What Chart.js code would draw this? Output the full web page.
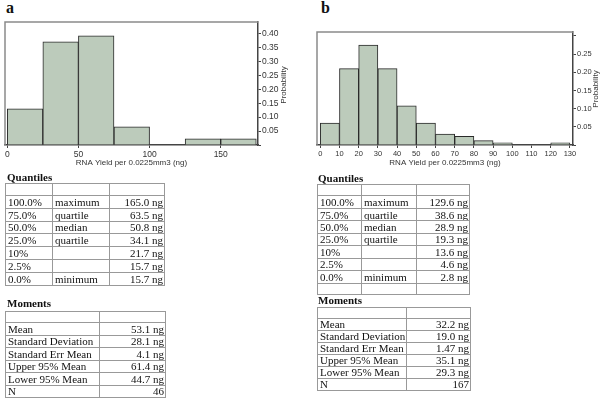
<!DOCTYPE html>
<html><head><meta charset="utf-8">
<script src="https://cdn.jsdelivr.net/npm/chart.js@4/dist/chart.umd.min.js"></script>
<style>
body{margin:0;background:#fff;width:600px;height:400px;position:relative;overflow:hidden;font-family:'Liberation Serif',serif}
.cw{position:absolute;top:0;width:300px;height:175px}
.lbl{position:absolute;font:bold 16px/16px 'Liberation Serif',serif;color:#111}
.ytitle{position:absolute;width:50px;height:10px;font:8px/10px 'Liberation Sans',Arial,sans-serif;color:#333;text-align:center;transform:rotate(-90deg);white-space:nowrap}
.hd{position:absolute;margin:0;font:bold 11px/13px 'Liberation Serif',serif;color:#111}
table{position:absolute;border-collapse:collapse;table-layout:fixed;font:11px 'Liberation Serif',serif;color:#111}
td{border:1px solid #999;padding:0 1px 0 2px;height:9px;line-height:10px;white-space:nowrap;overflow:hidden}
td.r{text-align:right}
</style></head>
<body>
<div class="lbl" style="left:6px;top:0px">a</div>
<div class="lbl" style="left:321px;top:0px">b</div>
<div class="cw" style="left:0"><canvas id="ca"></canvas></div>
<div class="cw" style="left:300px"><canvas id="cb"></canvas></div>
<div class="ytitle" style="left:259px;top:80px">Probability</div>
<div class="ytitle" style="left:571px;top:84px">Probability</div>

<div class="hd" style="left:7px;top:171px">Quantiles</div>
<table id="qa" style="left:5px;top:183px;height:103px"></table>
<div class="hd" style="left:7px;top:297px">Moments</div>
<table id="ma" style="left:5px;top:311px;height:87px"></table>

<div class="hd" style="left:318px;top:172px">Quantiles</div>
<table id="qb" style="left:317px;top:184px;height:111px"></table>
<div class="hd" style="left:318px;top:294px">Moments</div>
<table id="mb" style="left:317px;top:307px;height:84px"></table>

<script>
// ---- Histogram data ----
const binStartsA = [0, 25, 50, 75, 100, 125, 150];
const binWidthA = 25;
const probA = [0.130, 0.370, 0.391, 0.065, 0, 0.022, 0.022];

const binStartsB = [0, 10, 20, 30, 40, 50, 60, 70, 80, 90, 100, 110, 120];
const binWidthB = 10;
const probB = [0.060, 0.210, 0.275, 0.210, 0.108, 0.060, 0.030, 0.024, 0.012, 0.006, 0, 0, 0.006];

// ---- Tick labels ----
const xTicksA = [0, 50, 100, 150];
const xTicksB = [0, 10, 20, 30, 40, 50, 60, 70, 80, 90, 100, 110, 120, 130];
const yTicksA = [0, 0.05, 0.10, 0.15, 0.20, 0.25, 0.30, 0.35, 0.40];
const yTickLabelsA = ['', '0.05', '0.10', '0.15', '0.20', '0.25', '0.30', '0.35', '0.40'];
const yTicksB = [0, 0.05, 0.10, 0.15, 0.20, 0.25, 0.30];
const yTickLabelsB = ['', '0.05', '0.10', '0.15', '0.20', '0.25', ''];
const xTitle = 'RNA Yield per 0.0225mm3 (ng)';

// ---- Table data ----
const quantPct = ['100.0%', '75.0%', '50.0%', '25.0%', '10%', '2.5%', '0.0%'];
const quantName = ['maximum', 'quartile', 'median', 'quartile', '', '', 'minimum'];
const quantA = ['165.0 ng', '63.5 ng', '50.8 ng', '34.1 ng', '21.7 ng', '15.7 ng', '15.7 ng'];
const quantB = ['129.6 ng', '38.6 ng', '28.9 ng', '19.3 ng', '13.6 ng', '4.6 ng', '2.8 ng'];
const momName = ['Mean', 'Standard Deviation', 'Standard Err Mean', 'Upper 95% Mean', 'Lower 95% Mean', 'N'];
const momA = ['53.1 ng', '28.1 ng', '4.1 ng', '61.4 ng', '44.7 ng', '46'];
const momB = ['32.2 ng', '19.0 ng', '1.47 ng', '35.1 ng', '29.3 ng', '167'];

function buildTable(id, widths, rows, trailingEmpty) {
  const t = document.getElementById(id);
  let h = '<colgroup>' + widths.map(w => '<col style="width:' + w + 'px">').join('') + '</colgroup>';
  const empty = '<tr>' + widths.map(() => '<td></td>').join('') + '</tr>';
  h += empty;
  rows.forEach(r => {
    h += '<tr>' + r.map((c, i) => '<td' + (i === r.length - 1 ? ' class="r"' : '') + '>' + c + '</td>').join('') + '</tr>';
  });
  if (trailingEmpty) h += empty;
  t.innerHTML = h;
  t.style.width = widths.reduce((a, b) => a + b, 0) + 'px';
}
buildTable('qa', [47, 57, 55], quantPct.map((p, i) => [p, quantName[i], quantA[i]]), false);
buildTable('ma', [94, 66], momName.map((n, i) => [n, momA[i]]), false);
buildTable('qb', [44, 55, 53], quantPct.map((p, i) => [p, quantName[i], quantB[i]]), true);
buildTable('mb', [89, 64], momName.map((n, i) => [n, momB[i]]), false);

const frame = {
  id: 'frame',
  afterDraw(chart) {
    const {ctx, chartArea: a} = chart;
    ctx.save();
    ctx.strokeStyle = '#8a8a8a';
    ctx.lineWidth = 1.5;
    ctx.beginPath();
    ctx.moveTo(a.left, a.bottom);
    ctx.lineTo(a.left, a.top);
    ctx.lineTo(a.right, a.top);
    ctx.stroke();
    ctx.restore();
  }
};

function makeChart(id, starts, width, probs, xTicks, yTicks, yLabels, xmin, xmax, ymax, pad, yWidth, tickSize) {
  const kfont = {family: "'Liberation Sans', Arial, sans-serif", size: tickSize};
  const tfont = {family: "'Liberation Sans', Arial, sans-serif", size: 8};
  return new Chart(document.getElementById(id), {
    type: 'bar',
    data: {
      datasets: [{
        data: starts.map((s, i) => ({x: s + width / 2, y: probs[i]})),
        backgroundColor: '#bccbbb',
        borderColor: '#2a2a2a',
        borderWidth: 1,
        barPercentage: 1,
        categoryPercentage: 1
      }]
    },
    plugins: [frame],
    options: {
      responsive: true,
      maintainAspectRatio: false,
      animation: false,
      events: [],
      layout: {padding: pad},
      plugins: {legend: {display: false}, tooltip: {enabled: false}},
      scales: {
        x: {
          type: 'linear',
          offset: false,
          min: xmin, max: xmax,
          afterFit: s => { s.height = 30; },
          afterBuildTicks: s => { s.ticks = xTicks.map(v => ({value: v})); },
          grid: {display: true, offset: false, drawOnChartArea: false, tickLength: 3, color: '#444', tickWidth: 1},
          border: {display: true, color: '#444', width: 1.5},
          ticks: {font: kfont, color: '#333', padding: 1.5, maxRotation: 0, autoSkip: false},
          title: {display: true, text: xTitle, font: tfont, color: '#333', padding: {top: 0, bottom: 7}}
        },
        y: {
          position: 'right',
          min: 0, max: ymax,
          afterFit: s => { s.width = yWidth; },
          afterBuildTicks: s => { s.ticks = yTicks.map(v => ({value: v})); },
          grid: {display: true, drawOnChartArea: false, tickLength: 3, color: '#444', tickWidth: 1},
          border: {display: true, color: '#444', width: 1.5},
          ticks: {font: kfont, color: '#333', padding: 1, autoSkip: false, callback: (v, i) => yLabels[i]}
        }
      }
    }
  });
}

makeChart('ca', binStartsA, binWidthA, probA, xTicksA, yTicksA, yTickLabelsA, -1.6, 176.2, 0.441, {left: 5, top: 22, right: 0, bottom: 0}, 42, 8.5);
makeChart('cb', binStartsB, binWidthB, probB, xTicksB, yTicksB, yTickLabelsB, -1.7, 131.6, 0.311, {left: 17, top: 32, right: 0, bottom: 0}, 27, 7.5);
</script>
</body></html>
